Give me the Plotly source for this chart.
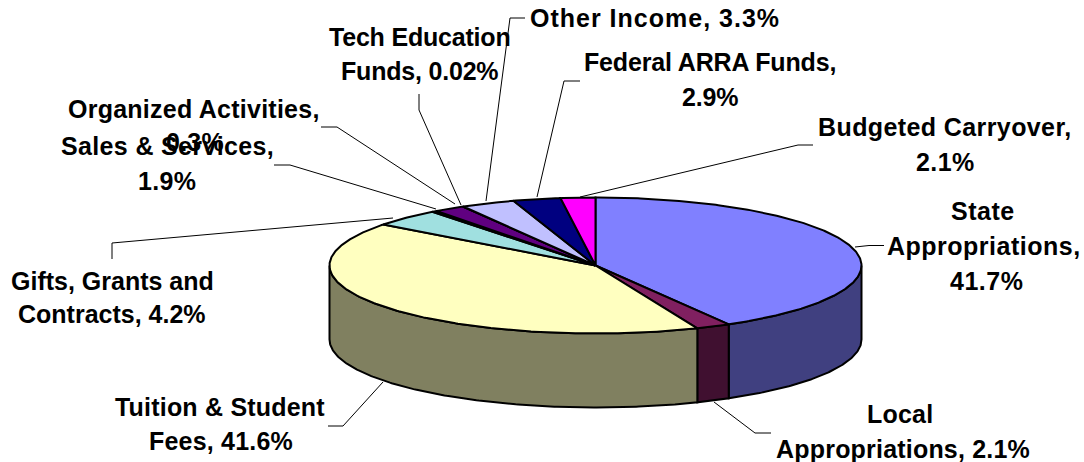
import numpy as np
import plotly.graph_objects as go

# ---- data ----
categories = ["State Appropriations", "Local Appropriations", "Tuition & Student Fees",
              "Gifts, Grants and Contracts", "Organized Activities", "Sales & Services",
              "Tech Education Funds", "Other Income", "Federal ARRA Funds", "Budgeted Carryover"]
values = [41.7, 2.1, 41.6, 4.2, 0.3, 1.9, 0.02, 3.3, 2.9, 2.1]
top_colors = ["#8080FF", "#802060", "#FFFFC0", "#A0E0E0", "#600080",
              "#600080", "#C0C0FF", "#C0C0FF", "#000080", "#FF00FF"]
side_colors = ["#404080", "#401030", "#808060", "#507070", "#300040",
               "#300040", "#606080", "#606080", "#000040", "#800080"]
label_lines = [["State", "Appropriations,", "41.7%"],
               ["Local", "Appropriations, 2.1%"],
               ["Tuition & Student", "Fees, 41.6%"],
               ["Gifts, Grants and", "Contracts, 4.2%"],
               ["Organized Activities,", "0.3%"],
               ["Sales & Services,", "1.9%"],
               ["Tech Education", "Funds, 0.02%"],
               ["Other Income, 3.3%"],
               ["Federal ARRA Funds,", "2.9%"],
               ["Budgeted Carryover,", "2.1%"]]

# ---- layout of the drawing (pixels) ----
CX, CY, RX, RY, DEPTH = 595.5, 265.5, 266, 68, 74
FONT = dict(family="Liberation Sans, Arial", size=25, color="#000000")
label_spacing = [0.5, 0.2, 0.2, 0.0, 0.25, 0.35, -0.2, 1.0, -0.15, 0.4]
label_pos = [[(983, 211), (984, 246), (986, 281)],
             [(900, 414), (903, 449)],
             [(220, 407), (221, 441)],
             [(112, 281), (112, 314)],
             [(194, 109), (195, 142)],
             [(167, 146), (167, 181)],
             [(419, 37), (419, 71)],
             [(655, 18)],
             [(710, 62), (710, 97)],
             [(945, 127), (945, 162)]]
leaders = [[(884, 245.5), (869, 245.5), (855, 247)],
           [(771, 433), (755, 433), (714, 402)],
           [(328, 426), (343, 426), (383, 382)],
           [(112, 259), (112, 243), (393, 218)],
           [(321, 127), (337, 127), (455, 204)],
           [(274, 165), (290, 165), (436, 209)],
           [(419, 94), (419, 110), (461, 205)],
           [(525, 18), (510, 18), (486, 201)],
           [(580, 81), (564, 81), (537, 197)],
           [(813, 145), (798, 145), (580, 197)]]


def arc(a0, a1, dy=0.0):
    n = max(2, int(abs(a1 - a0) / 0.01) + 2)
    t = np.linspace(a0, a1, n)
    return CX + RX * np.sin(t), CY + dy - RY * np.cos(t)


fig = go.Figure()
total = sum(values)
edges = np.concatenate([[0], np.cumsum(values)]) / total * 2 * np.pi
common = dict(mode="lines", line=dict(color="#000000", width=2), fill="toself",
              hoverinfo="skip", showlegend=False)

# front walls of the disc
for i, name in enumerate(categories):
    a0, a1 = max(edges[i], np.pi / 2), min(edges[i + 1], 1.5 * np.pi)
    if a1 <= a0:
        continue
    xt, yt = arc(a0, a1)
    xb, yb = arc(a1, a0, DEPTH)
    fig.add_trace(go.Scatter(x=np.r_[xt, xb, xt[0]], y=np.r_[yt, yb, yt[0]],
                             fillcolor=side_colors[i], name=name, **common))

# top faces
for i, name in enumerate(categories):
    xt, yt = arc(edges[i], edges[i + 1])
    fig.add_trace(go.Scatter(x=np.r_[CX, xt, CX], y=np.r_[CY, yt, CY],
                             fillcolor=top_colors[i], name=name, **common))

shapes = []
for pts in leaders:
    for p, q in zip(pts[:-1], pts[1:]):
        shapes.append(dict(type="line", x0=p[0], y0=p[1], x1=q[0], y1=q[1],
                           xref="x", yref="y", layer="below",
                           line=dict(color="#000000", width=1)))

annotations = []
for lines, positions, sp in zip(label_lines, label_pos, label_spacing):
    for text, (x, y) in zip(lines, positions):
        html = '<span style="letter-spacing:%.2fpx"><b>%s</b></span>' % (sp, text)
        annotations.append(dict(x=x, y=y, xref="x", yref="y", text=html,
                                showarrow=False, xanchor="center", yanchor="middle",
                                font=FONT))

fig.update_layout(width=1084, height=462, margin=dict(l=0, r=0, t=0, b=0),
                  paper_bgcolor="#FFFFFF", plot_bgcolor="#FFFFFF", showlegend=False,
                  shapes=shapes, annotations=annotations,
                  xaxis=dict(range=[0, 1084], visible=False, fixedrange=True),
                  yaxis=dict(range=[462, 0], visible=False, fixedrange=True))
fig.write_html("out.html", post_script="document.body.style.margin='0';",
               config=dict(displayModeBar=False))
